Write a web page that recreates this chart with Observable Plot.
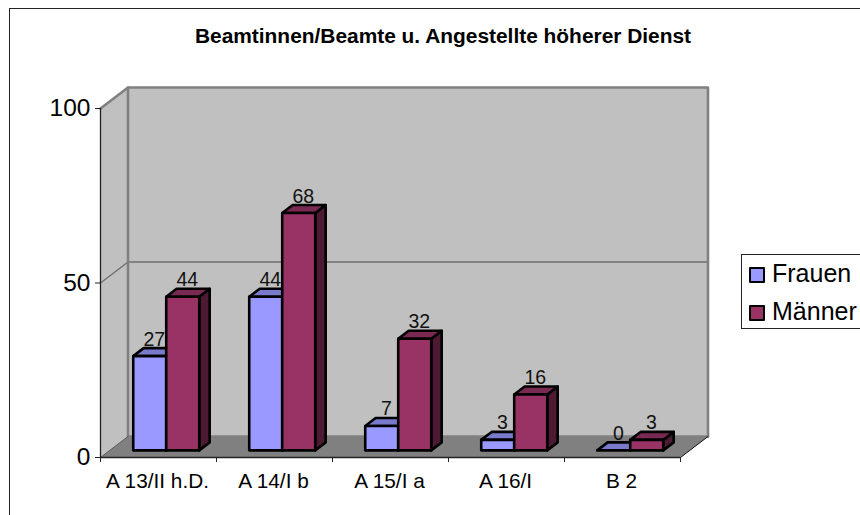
<!DOCTYPE html>
<html>
<head>
<meta charset="utf-8">
<script src="https://cdn.jsdelivr.net/npm/d3@7"></script>
<script src="https://cdn.jsdelivr.net/npm/@observablehq/plot@0.6"></script>
<style>
html,body{margin:0;padding:0;background:#fff;overflow:hidden}
#wrap{position:relative;width:860px;height:515px;font-family:"Liberation Sans",Arial,sans-serif;color:#000}
#frame{position:absolute;left:9px;top:8px;right:-5px;bottom:-5px;border:1.5px solid #222}
#title{position:absolute;left:0;width:886px;top:25px;text-align:center;font-weight:bold;font-size:20.9px;line-height:22px;white-space:nowrap}
#legend{position:absolute;left:741px;top:253.5px;width:130px;height:75px;border:1px solid #222;box-sizing:border-box;background:#fff}
.sw{position:absolute;left:7px;width:12px;height:12px;border:2px solid #000;border-radius:1px}
.lt{position:absolute;left:30px;font-size:25px;line-height:28px;white-space:nowrap}
svg{position:absolute;left:0;top:0}
</style>
</head>
<body>
<div id="wrap"></div>
<script>
const categories = ["A 13/II h.D.", "A 14/I b", "A 15/I a", "A 16/I", "B 2"];
const frauen = [27, 44, 7, 3, 0];
const maenner = [44, 68, 32, 16, 3];
const seriesNames = ["Frauen", "Männer"];
const yTicks = [0, 50, 100];
const title = "Beamtinnen/Beamte u. Angestellte höherer Dienst";

const colFrauen = {front: "#9999ff", top: "#7a7acc", side: "#5c5c99"};
const colMaenner = {front: "#993366", top: "#7a2952", side: "#4d1a33"};

// oblique projection: a depth of 1 is the full depth of the chart box
const depthX = 27.5 / 116;   // in category units
const depthY = 21 / 3.49;    // in value units
const P = (x, v, d) => ({x: x + d * depthX, y: v + d * depthY});
const barW = 33 / 116, dFront = 0.34, dBack = 0.72;

function face(points, fill, stroke, strokeWidth) {
  const closed = [...points, points[0]];
  return Plot.line(closed, {x: "x", y: "y", fill, stroke, strokeWidth, strokeLinejoin: "round", curve: "linear"});
}

function bar(x0, v, c) {
  const x1 = x0 + barW;
  const sw = 2.6;
  const out = [];
  if (v > 0) out.push(face([P(x1,0,dFront),P(x1,0,dBack),P(x1,v,dBack),P(x1,v,dFront)], c.side, "#000", sw));
  out.push(face([P(x0,v,dFront),P(x1,v,dFront),P(x1,v,dBack),P(x0,v,dBack)], c.top, "#000", sw));
  if (v > 0) out.push(face([P(x0,0,dFront),P(x1,0,dFront),P(x1,v,dFront),P(x0,v,dFront)], c.front, "#000", sw));
  return out;
}

const marks = [];
const gray = "#808080";
// left side wall and back wall
marks.push(face([P(0,0,0),P(0,0,1),P(0,100,1),P(0,100,0)], "#c0c0c0", "none", 0));
marks.push(face([P(0,0,1),P(5,0,1),P(5,100,1),P(0,100,1)], "#c0c0c0", "none", 0));
// floor
marks.push(face([P(0,0,0),P(5,0,0),P(5,0,1),P(0,0,1)], gray, "none", 0));
// gridline at 50
marks.push(Plot.line([P(0,50,0),P(0,50,1),P(5,50,1)], {x:"x",y:"y",stroke:"#6e6e6e",strokeWidth:1.3}));
// wall edges
marks.push(Plot.line([P(0,100,0),P(0,100,1),P(5,100,1),P(5,0,1)], {x:"x",y:"y",stroke:gray,strokeWidth:2.6}));
marks.push(Plot.line([P(0,100,1),P(0,0,1),P(5,0,1)], {x:"x",y:"y",stroke:gray,strokeWidth:2.6}));
marks.push(Plot.line([P(0,0,1),P(0,0,0)], {x:"x",y:"y",stroke:"#555",strokeWidth:1}));
marks.push(Plot.line([P(5,0,0),P(5,0,1)], {x:"x",y:"y",stroke:"#111",strokeWidth:1}));

// bars, painted from left to right
categories.forEach((_, i) => {
  const x0 = i + 0.5 - barW - 0.014;
  marks.push(...bar(x0, frauen[i], colFrauen));
  marks.push(...bar(x0 + barW, maenner[i], colMaenner));
});

// value labels sit above the back edge of each bar
const labels = categories.flatMap((_, i) => [
  {...P(i + 0.5 - barW / 2, frauen[i], dBack), t: frauen[i]},
  {...P(i + 0.5 + barW / 2, maenner[i], dBack), t: maenner[i]}
]);
marks.push(Plot.text(labels, {x:"x", y:"y", text:"t", fontSize:19.5, lineAnchor:"bottom", dx:-7.5, dy:-2.5, fill:"#111"}));

// axes
marks.push(Plot.ruleX([0], {stroke:"#222", strokeWidth:1.3}));
marks.push(Plot.ruleY([0], {stroke:"#222", strokeWidth:1.3}));
marks.push(Plot.axisY({ticks:yTicks, tickSize:5, tickPadding:5, fontSize:24.5, label:null, stroke:"#222", color:"#000"}));
marks.push(Plot.axisX({ticks:d3.range(0, categories.length + 1), tickSize:5, tickFormat:() => "", label:null, stroke:"#222"}));
marks.push(Plot.axisX({ticks:categories.map((_, i) => i + 0.5), tickSize:0, tickPadding:16, fontSize:20.8, label:null, dx:-1,
  tickFormat:d => categories[Math.floor(d)], color:"#000"}));

const chart = Plot.plot({
  width: 860, height: 515,
  marginLeft: 100, marginRight: 180, marginTop: 108, marginBottom: 58,
  style: {background:"transparent", fontFamily:'"Liberation Sans",Arial,sans-serif', overflow:"visible"},
  x: {domain:[0, categories.length]},
  y: {domain:[0, 100]},
  marks
});

const wrap = document.getElementById("wrap");
const frame = document.createElement("div"); frame.id = "frame"; wrap.appendChild(frame);
wrap.appendChild(chart);
const t = document.createElement("div"); t.id = "title"; t.textContent = title; wrap.appendChild(t);
const lg = document.createElement("div"); lg.id = "legend";
[colFrauen, colMaenner].forEach((c, i) => {
  const s = document.createElement("div"); s.className = "sw"; s.style.background = c.front;
  s.style.top = (12 + i * 38) + "px"; lg.appendChild(s);
  const l = document.createElement("div"); l.className = "lt"; l.textContent = seriesNames[i];
  l.style.top = (4.5 + i * 38) + "px"; lg.appendChild(l);
});
wrap.appendChild(lg);
</script>
</body>
</html>
